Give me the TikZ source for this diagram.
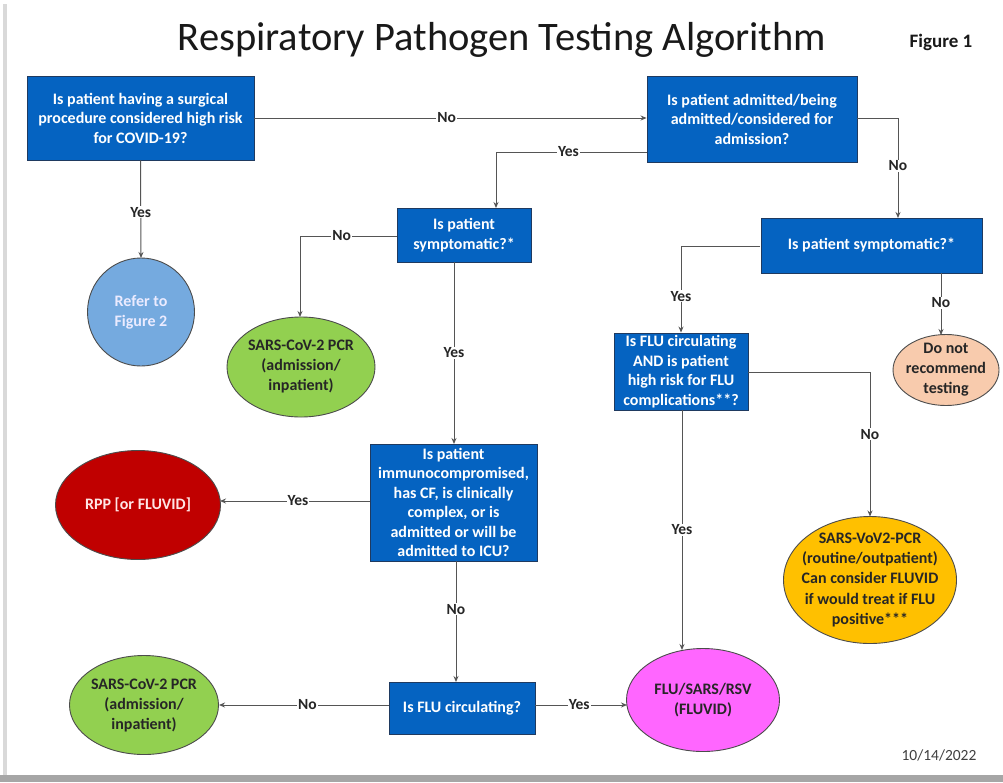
\documentclass[tikz,border=0pt]{standalone}
\usepackage{fontspec}
\setmainfont{Carlito}
\usetikzlibrary{arrows.meta,shapes.geometric}
\definecolor{boxblue}{HTML}{0563C1}
\definecolor{boxedge}{HTML}{1F3A60}
\definecolor{lblue}{HTML}{75AADF}
\definecolor{lgreen}{HTML}{92D050}
\definecolor{dred}{HTML}{C00000}
\definecolor{peach}{HTML}{F8CBAD}
\definecolor{gold}{HTML}{FFC000}
\definecolor{pink}{HTML}{FF66FF}
\definecolor{linec}{HTML}{555555}
\tikzset{
  qbox/.style={draw=boxedge, line width=0.9pt, fill=boxblue, text=white, font=\bfseries\fontsize{16}{19.5}\selectfont, align=center, inner sep=0pt},
  oval/.style={ellipse, draw=black!70, line width=0.9pt, inner sep=0pt, outer sep=0pt},
  ovtext/.style={font=\bfseries\fontsize{16}{20}\selectfont, align=center, inner sep=0pt, text=black!85},
  arr/.style={draw=linec, line width=1pt, -{Stealth[length=6pt,width=5pt]}},
  lbl/.style={fill=white, inner sep=1pt, font=\bfseries\fontsize{15.5}{17}\selectfont, text=black!85}
}
\begin{document}
\begin{tikzpicture}[x=1pt,y=-1pt]
\useasboundingbox (0,0) rectangle (1003,782);
% page and shadow
\fill[gray!70] (0,775) rectangle (1003,782);
\fill[gray!30] (3,4) rectangle (7,775);
\fill[white] (7,0) rectangle (1003,775);
% title
\node[font=\fontsize{40.5}{44}\selectfont, text=black!90] (title) at (502,40) {Respiratory Pathogen Testing Algorithm};
\node[font=\bfseries\fontsize{19}{21}\selectfont, text=black!90] (fig) at (941,42) {Figure 1};
\node[font=\fontsize{15.5}{17}\selectfont, text=black!75] (date) at (939,755) {10/14/2022};
% boxes
\node[qbox, minimum width=227, minimum height=84] (A) at (140.5,118) {Is patient having a surgical\\procedure considered high risk\\for COVID-19?};
\node[qbox, minimum width=210, minimum height=86] (B) at (752,119) {Is patient admitted/being\\admitted/considered for\\admission?};
\node[qbox, minimum width=134, minimum height=54] (C) at (464,235) {Is patient\\symptomatic?*};
\node[qbox, minimum width=221, minimum height=55] (D) at (871.5,245.5) {Is patient symptomatic?*};
\node[qbox, minimum width=167, minimum height=117] (E) at (453.5,502.5) {Is patient\\immunocompromised,\\has CF, is clinically\\complex, or is\\admitted or will be\\admitted to ICU?};
\node[qbox, minimum width=134, minimum height=77] (F) at (681,371.5) {Is FLU circulating\\AND is patient\\high risk for FLU\\complications**?};
\node[qbox, minimum width=146, minimum height=52] (G) at (462,708) {Is FLU circulating?};
% ovals
\node[oval, fill=lblue, minimum width=107, minimum height=108,
  label={[ovtext, text=white!92!blue]center:Refer to\\Figure 2}] (R) at (141,312) {};
\node[oval, fill=lgreen, minimum width=148, minimum height=100,
  label={[ovtext]center:SARS-CoV-2 PCR\\(admission/\\inpatient)}] (G1) at (301,367) {};
\node[oval, fill=peach, minimum width=106, minimum height=71,
  label={[ovtext]center:Do not\\recommend\\testing}] (O) at (946,370) {};
\node[oval, fill=dred, minimum width=165, minimum height=109,
  label={[ovtext, text=white!90!red]center:RPP [or FLUVID]}] (Red) at (138,505) {};
\node[oval, fill=gold, minimum width=173, minimum height=127,
  label={[ovtext]center:SARS-VoV2-PCR\\(routine/outpatient)\\Can consider FLUVID\\if would treat if FLU\\positive***}] (Y) at (870,580) {};
\node[oval, fill=lgreen, minimum width=149, minimum height=99,
  label={[ovtext]center:SARS-CoV-2 PCR\\(admission/\\inpatient)}] (G2) at (144,705) {};
\node[oval, fill=pink, minimum width=153, minimum height=103,
  label={[ovtext]center:FLU/SARS/RSV\\(FLUVID)}] (M) at (703,700) {};
% coordinates (connector start/bend points)
\coordinate (bY) at (647,152);
\coordinate (bYc) at (496,152);
\coordinate (cT) at (496,208);
\coordinate (bN) at (857,118);
\coordinate (bNc) at (898,118);
\coordinate (dT) at (898,218);
\coordinate (cN) at (397,236);
\coordinate (cNc) at (300,236);
\coordinate (g1T) at (300,317);
\coordinate (cB) at (454,262);
\coordinate (eT) at (454,444);
\coordinate (dY) at (760,246);
\coordinate (dYc) at (681,246);
\coordinate (dB) at (941,273);
\coordinate (oT) at (941,335);
\coordinate (fN) at (748,372);
\coordinate (fNc) at (870,372);
\coordinate (fB) at (682,410);
\coordinate (mT) at (682,650);
\coordinate (eL) at (370,501);
\coordinate (redR) at (220,501);
\coordinate (eB) at (456,561);
\coordinate (gT) at (456,682);
\coordinate (gL) at (389,705);
\coordinate (g2R) at (219,705);
\coordinate (gR) at (535,705);
\coordinate (mL) at (627,705);
% connectors
\draw[arr] (A.east) -- node[lbl, pos=0.49] {No} (A.east -| B.west);
\draw[arr] (A.south) -- node[lbl, pos=0.53] {Yes} (R.north);
\draw[arr] (bY) -- node[lbl, pos=0.52] {Yes} (bYc) -- (cT);
\draw[arr] (bN) -- (bNc) -- node[lbl, pos=0.48] {No} (dT);
\draw[arr] (cN) -- node[lbl, pos=0.57] {No} (cNc) -- (g1T);
\draw[arr] (cB) -- node[lbl, pos=0.5] {Yes} (eT);
\draw[arr] (dY) -- (dYc) -- node[lbl, pos=0.58] {Yes} (F.north);
\draw[arr] (dB) -- node[lbl, pos=0.48] {No} (oT);
\draw[arr] (fN) -- (fNc) -- node[lbl, pos=0.43] {No} (Y.north);
\draw[arr] (fB) -- node[lbl, pos=0.5] {Yes} (mT);
\draw[arr] (eL) -- node[lbl, pos=0.48] {Yes} (redR);
\draw[arr] (eB) -- node[lbl, pos=0.4] {No} (gT);
\draw[arr] (gL) -- node[lbl, pos=0.48] {No} (g2R);
\draw[arr] (gR) -- node[lbl, pos=0.48] {Yes} (mL);
\end{tikzpicture}
\end{document}
